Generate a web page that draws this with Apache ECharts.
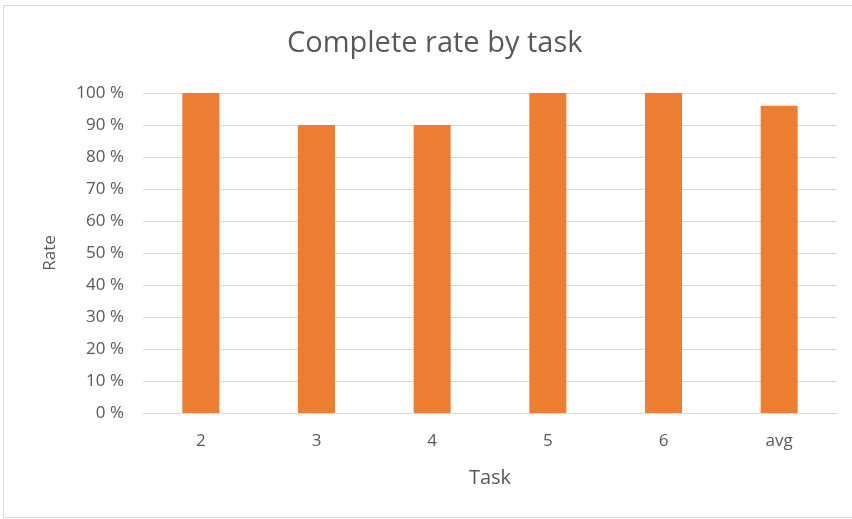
<!DOCTYPE html>
<html>
<head>
<meta charset="utf-8">
<script src="https://cdn.jsdelivr.net/npm/echarts@6/dist/echarts.min.js"></script>
<style>
  html, body { margin: 0; padding: 0; background: #fff; }
  #chart { width: 852px; height: 519px; }
</style>
</head>
<body>
<div id="chart"></div>
<script>
const tasks = ['2', '3', '4', '5', '6', 'avg']
const rates = [100, 90, 90, 100, 100, 96]

const chart = echarts.init(document.getElementById('chart'))
const textColor = '#595959'
const font = 'Open Sans'

chart.setOption({
  animation: false,
  backgroundColor: '#fff',
  graphic: [{
    type: 'rect',
    shape: { x: 3.5, y: 5.5, width: 860, height: 512 },
    style: { fill: 'none', stroke: '#d9d9d9', lineWidth: 1 }
  }],
  title: {
    text: 'Complete rate by task',
    left: 282,
    top: 24,
    textStyle: { fontFamily: font, fontWeight: 'normal', fontSize: 29, color: textColor }
  },
  grid: { left: 143, right: 15, top: 93, bottom: 106 },
  xAxis: {
    type: 'category',
    data: tasks,
    name: 'Task',
    nameLocation: 'middle',
    nameGap: 55,
    nameTextStyle: { fontFamily: font, fontSize: 20, color: textColor },
    axisTick: { show: false },
    axisLine: { lineStyle: { color: '#d9d9d9', width: 1 } },
    axisLabel: { fontFamily: font, fontSize: 17, color: textColor, margin: 20 }
  },
  yAxis: {
    type: 'value',
    min: 0,
    max: 100,
    interval: 10,
    name: 'Rate',
    nameLocation: 'middle',
    nameGap: 84,
    nameTextStyle: { fontFamily: font, fontSize: 17, color: textColor },
    axisLine: { show: false },
    axisTick: { show: false },
    splitLine: { lineStyle: { color: '#d9d9d9', width: 1 } },
    axisLabel: { fontFamily: font, fontSize: 17, color: textColor, margin: 19, formatter: '{value} %' }
  },
  series: [{
    type: 'bar',
    data: rates,
    barWidth: '32%',
    itemStyle: { color: '#ed7d31' }
  }]
})
</script>
</body>
</html>
